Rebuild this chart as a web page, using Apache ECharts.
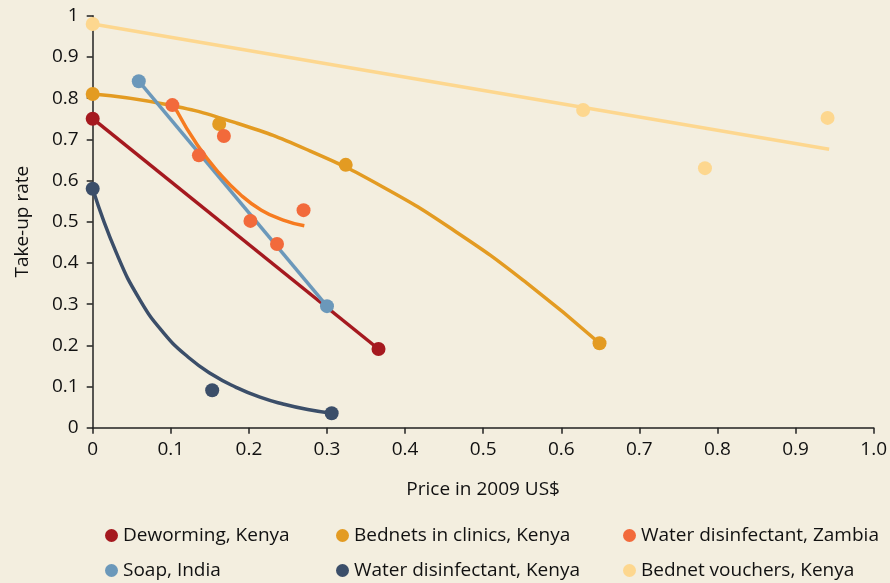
<!DOCTYPE html>
<html>
<head>
<meta charset="utf-8">
<script src="https://cdn.jsdelivr.net/npm/echarts@6/dist/echarts.min.js"></script>
<style>
html,body{margin:0;padding:0;background:#f3eedf;}
#chart{width:890px;height:583px;}
</style>
</head>
<body>
<div id="chart"></div>
<script>
// Names
const seriesNames = ['Deworming, Kenya','Bednets in clinics, Kenya','Water disinfectant, Zambia','Soap, India','Water disinfectant, Kenya','Bednet vouchers, Kenya'];
// Observed points [price, take-up]
const dewormingPts = [[0,0.75],[0.366,0.191]];
const bednetsClinicPts = [[0,0.81],[0.162,0.737],[0.324,0.638],[0.649,0.205]];
const zambiaPts = [[0.102,0.783],[0.136,0.661],[0.168,0.708],[0.202,0.502],[0.236,0.446],[0.270,0.528]];
const soapPts = [[0.059,0.841],[0.300,0.295]];
const waterKenyaPts = [[0,0.58],[0.153,0.091],[0.306,0.035]];
const voucherPts = [[0,0.98],[0.628,0.771],[0.784,0.630],[0.941,0.752]];
// Fitted curves
const dewormingFit = [[0,0.75],[0.366,0.191]];
const bednetsClinicFit = [[0,0.81],[0.0927,0.785],[0.185,0.739],[0.278,0.672],[0.371,0.585],[0.464,0.477],[0.556,0.351],[0.649,0.205]];
const zambiaFit = [[0.107,0.771],[0.134,0.686],[0.162,0.618],[0.189,0.566],[0.216,0.528],[0.244,0.504],[0.271,0.490]];
const soapFit = [[0.059,0.841],[0.300,0.295]];
const waterKenyaFit = [[0,0.58],[0.0306,0.423],[0.0612,0.308],[0.0918,0.228],[0.1224,0.171],[0.153,0.129],[0.1836,0.098],[0.2142,0.074],[0.2448,0.057],[0.2754,0.044],[0.306,0.035]];
const voucherFit = [[0,0.98],[0.943,0.676]];
// Ticks
const xTicks = [0,0.1,0.2,0.3,0.4,0.5,0.6,0.7,0.8,0.9,1.0];
const yTicks = [0,0.1,0.2,0.3,0.4,0.5,0.6,0.7,0.8,0.9,1];

const pointColors = ['#a5191f','#e39b22','#f26a3b','#6b98ba','#3b4e69','#fdd78f'];
const lineColors  = ['#a5191f','#e39b22','#f67b20','#6b98ba','#3b4e69','#fdd78f'];
const allPts = [dewormingPts,bednetsClinicPts,zambiaPts,soapPts,waterKenyaPts,voucherPts];
const allFits = [dewormingFit,bednetsClinicFit,zambiaFit,soapFit,waterKenyaFit,voucherFit];

const FONT = 'Open Sans';
const series = [];
const order = [5,1,0,3,2,4];
order.forEach(i=>{
  series.push({
    name: seriesNames[i]+' fit', type:'line', data: allFits[i],
    smooth: allFits[i].length>2 ? 0.5 : false,
    symbol:'none', lineStyle:{color:lineColors[i], width:3.5}, z:2, silent:true
  });
});
order.forEach(i=>{
  series.push({
    name: seriesNames[i], type:'scatter', data: allPts[i], symbolSize:14,
    itemStyle:{color:pointColors[i], opacity:1}, z:3
  });
});

const legendPos = [[100,521],[331,521],[618,521],[100,556],[331,556],[618,556]];
const legends = seriesNames.map((n,i)=>({
  data:[{name:n, itemStyle:{color:pointColors[i]}}],
  left: legendPos[i][0], top: legendPos[i][1], icon:'circle', itemWidth:13, itemHeight:13, itemGap:8,
  textStyle:{fontFamily:FONT, fontSize:19, color:'#111'}, selectedMode:false
}));

const chart = echarts.init(document.getElementById('chart'));
chart.setOption({
  backgroundColor:'#f3eedf',
  animation:false,
  legend: legends,
  grid:{left:92.7, right:15.5, top:15.7, bottom:155.3, containLabel:false},
  xAxis:{
    type:'value', min:0, max:1, interval:0.1,
    name:'Price in 2009 US$', nameLocation:'middle', nameGap:52,
    nameTextStyle:{fontFamily:FONT, fontSize:19, color:'#111'},
    axisLine:{show:true, lineStyle:{color:'#222', width:1.5}},
    axisTick:{show:true, length:6, lineStyle:{color:'#222', width:1.5}},
    axisLabel:{fontFamily:FONT, fontSize:19, color:'#111', margin:12,
      formatter:v=>{ const t = xTicks.find(x=>Math.abs(x-v)<1e-9); const val = t===undefined?v:t; return val===0?'0':val.toFixed(1);} },
    splitLine:{show:false}
  },
  yAxis:{
    type:'value', min:0, max:1, interval:0.1,
    name:'Take-up rate', nameLocation:'middle', nameGap:61, nameRotate:90,
    nameTextStyle:{fontFamily:FONT, fontSize:19, color:'#111'},
    axisLine:{show:true, lineStyle:{color:'#222', width:1.5}},
    axisTick:{show:true, length:6, lineStyle:{color:'#222', width:1.5}},
    axisLabel:{fontFamily:FONT, fontSize:19, color:'#111', margin:14,
      formatter:v=>{ const t = yTicks.find(x=>Math.abs(x-v)<1e-9); const val = t===undefined?v:t; return val===0?'0':(val===1?'1':val.toFixed(1));} },
    splitLine:{show:false}
  },
  series: series
});
</script>
</body>
</html>
